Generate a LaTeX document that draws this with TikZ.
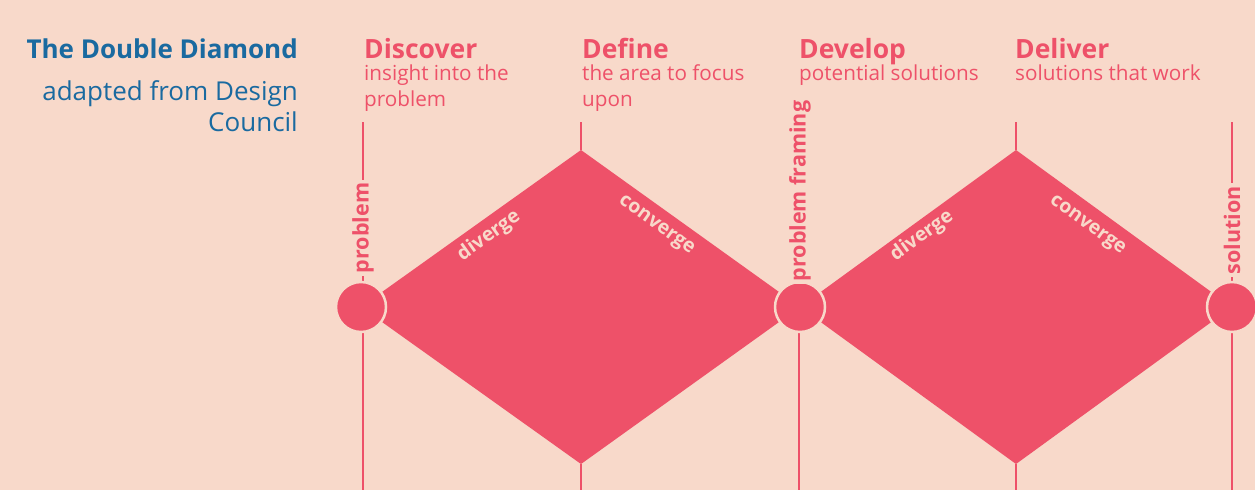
\documentclass[tikz,border=0pt]{standalone}
\usepackage{fontspec}
\setmainfont{Open Sans}
\definecolor{bgc}{HTML}{F8D9CA}
\definecolor{pinkc}{HTML}{EE5169}
\definecolor{bluec}{HTML}{1A6AA0}
\begin{document}
\begin{tikzpicture}[x=1pt,y=-1pt,
  vline/.style={draw=pinkc,line width=2.5pt},
  dia/.style={fill=pinkc},
  circ/.style={circle,fill=pinkc,draw=bgc,line width=2.5pt,minimum size=50pt,inner sep=0pt},
  phase/.style={anchor=base west,text=pinkc,font=\fontsize{26.5}{26}\selectfont\bfseries,inner sep=0pt},
  phasesub/.style={anchor=base west,text=pinkc,font=\fontsize{20.7}{26}\selectfont,align=left,inner sep=0pt},
  vlabel/.style={rotate=90,text=pinkc,font=\fontsize{21.5}{22}\selectfont\bfseries,fill=bgc,inner xsep=3pt,inner ysep=0pt},
  dlabel/.style={text=bgc,font=\fontsize{19.5}{20}\selectfont\bfseries,inner sep=0pt}
]
\fill[bgc] (0,0) rectangle (1255,490);
\useasboundingbox (0,0) rectangle (1255,490);

% title
\node[anchor=base east,text=bluec,font=\fontsize{26}{26}\selectfont\bfseries,inner sep=0pt] (title) at (298,58) {The Double Diamond};
\node[anchor=base east,text=bluec,font=\fontsize{26}{31}\selectfont,align=right,inner sep=0pt] (sub) at (298,131) {adapted from Design\\Council};

% phases
\node[phase] (h1) at (364,58) {Discover};
\node[phasesub] (s1) at (364,106) {insight into the\\problem};
\node[phase] (h2) at (582,58) {Define};
\node[phasesub] (s2) at (582,106) {the area to focus\\upon};
\node[phase] (h3) at (799,58) {Develop};
\node[phasesub] (s3) at (799,80) {potential solutions};
\node[phase] (h4) at (1015,58) {Deliver};
\node[phasesub] (s4) at (1015,80) {solutions that work};

% coordinates
\coordinate (t1) at (363,122);
\coordinate (b1) at (363,490);
\coordinate (t2) at (581,122);
\coordinate (d1top) at (581,150);
\coordinate (d1bot) at (581,464);
\coordinate (b2) at (581,490);
\coordinate (b3) at (799,490);
\coordinate (t4) at (1016,122);
\coordinate (d2top) at (1016,150);
\coordinate (d2bot) at (1016,464);
\coordinate (b4) at (1016,490);
\coordinate (t5) at (1232,122);
\coordinate (b5) at (1232,490);

% vertical lines
\draw[vline] (t1) -- (b1);
\draw[vline] (t2) -- (d1top);
\draw[vline] (d1bot) -- (b2);
\draw[vline] (799,320) -- (b3);
\draw[vline] (t4) -- (d2top);
\draw[vline] (d2bot) -- (b4);
\draw[vline] (t5) -- (b5);

% diamonds
\fill[dia] (361,307) -- (d1top) -- (800,307) -- (d1bot) -- cycle;
\fill[dia] (800,307) -- (d2top) -- (1232,307) -- (d2bot) -- cycle;

% circles
\node[circ] (c1) at (361,307) {};
\node[circ] (c2) at (800,307) {};
\node[circ] (c3) at (1232,307) {};

% vertical labels
\node[vlabel] (lp) at (363,228) {problem};
\node[vlabel] (lpf) at (800,191) {problem framing};
\node[vlabel] (ls) at (1232,230) {solution};

% diverge / converge
\node[dlabel,rotate=35.5] (dv1) at (489,236) {diverge};
\node[dlabel,rotate=-35.5] (cv1) at (656,226) {converge};
\node[dlabel,rotate=35.5] (dv2) at (922,236) {diverge};
\node[dlabel,rotate=-35.5] (cv2) at (1087,226) {converge};
\end{tikzpicture}
\end{document}
